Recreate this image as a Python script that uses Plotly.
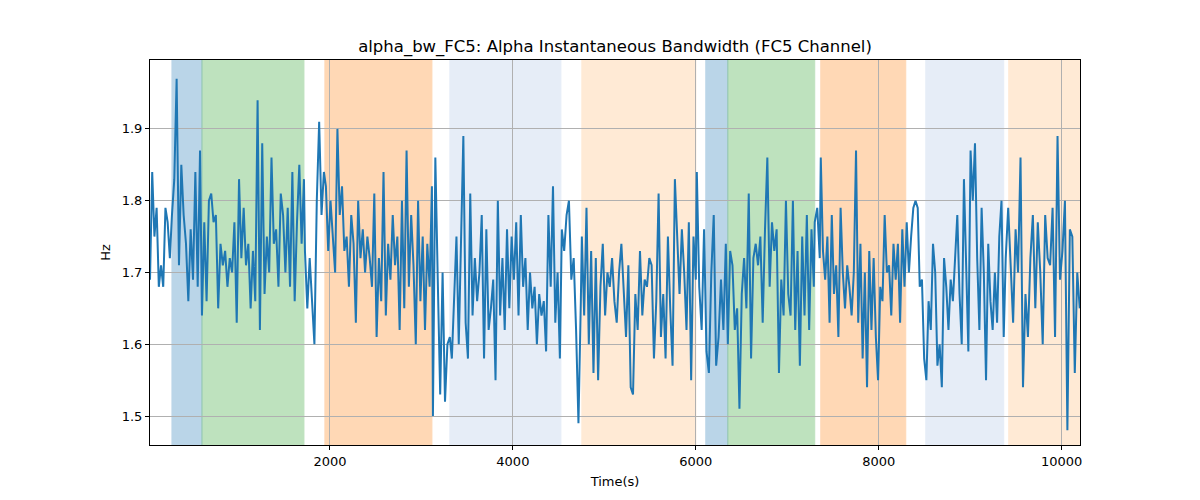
import numpy as np
import plotly.graph_objects as go

# --- data: (segment start time, segment end time, values) ---
seg_times = [
    (33, 250), (273, 580), (601, 1716), (1727, 1934), (1956, 3115),
    (3126, 3311), (3333, 4514), (4535, 4743), (4754, 6000), (6011, 6328),
    (6350, 7290), (7300, 7355), (7366, 8426), (8448, 9366), (9388, 10197),
]
seg_values = [
    [1.69, 1.84, 1.75, 1.79, 1.68, 1.71, 1.68, 1.79, 1.77, 1.72],
    [1.78, 1.83, 1.97, 1.71, 1.85, 1.78, 1.74, 1.66, 1.76, 1.69, 1.84, 1.68, 1.87],
    [1.64, 1.77, 1.66, 1.80, 1.81, 1.77, 1.78, 1.65, 1.74, 1.71, 1.73, 1.68, 1.72, 1.70,
     1.77, 1.63, 1.83, 1.72, 1.79, 1.71, 1.74, 1.65, 1.73, 1.66, 1.94, 1.62, 1.88, 1.67,
     1.75, 1.70, 1.86, 1.74, 1.76, 1.68, 1.81, 1.78, 1.70, 1.79, 1.68, 1.84, 1.66, 1.77,
     1.85, 1.74, 1.83],
    [1.73, 1.65, 1.72, 1.66, 1.60, 1.80, 1.91, 1.78, 1.84],
    [1.82, 1.73, 1.80, 1.75, 1.70, 1.90, 1.78, 1.82, 1.73, 1.75, 1.68, 1.78, 1.74, 1.63,
     1.80, 1.72, 1.76, 1.70, 1.75, 1.72, 1.68, 1.81, 1.61, 1.72, 1.66, 1.84, 1.64, 1.74,
     1.69, 1.78, 1.71, 1.75, 1.62, 1.80, 1.65, 1.87, 1.68, 1.78, 1.71, 1.60, 1.80, 1.66,
     1.75, 1.62, 1.74, 1.68, 1.82],
    [1.50, 1.86, 1.69, 1.53, 1.70, 1.52, 1.60, 1.61],
    [1.58, 1.67, 1.75, 1.60, 1.75, 1.89, 1.63, 1.58, 1.81, 1.64, 1.72, 1.66, 1.70, 1.78,
     1.58, 1.76, 1.62, 1.65, 1.69, 1.55, 1.80, 1.64, 1.72, 1.62, 1.76, 1.65, 1.75, 1.69,
     1.77, 1.64, 1.78, 1.68, 1.72, 1.62, 1.70, 1.65, 1.68, 1.60, 1.67, 1.64, 1.66, 1.59,
     1.78, 1.68, 1.82, 1.63, 1.70, 1.58],
    [1.76, 1.73, 1.78, 1.80, 1.69, 1.72, 1.62, 1.49, 1.66],
    [1.75, 1.64, 1.79, 1.60, 1.73, 1.56, 1.72, 1.55, 1.68, 1.74, 1.64, 1.70, 1.68, 1.72,
     1.66, 1.63, 1.70, 1.74, 1.68, 1.61, 1.71, 1.54, 1.53, 1.67, 1.62, 1.73, 1.64, 1.69,
     1.68, 1.72, 1.71, 1.58, 1.66, 1.81, 1.61, 1.67, 1.58, 1.75, 1.65, 1.57, 1.83, 1.74,
     1.67, 1.76, 1.70, 1.62, 1.77, 1.55, 1.75, 1.69],
    [1.84, 1.68, 1.62, 1.76, 1.59, 1.56, 1.70, 1.78, 1.57, 1.61, 1.69, 1.62, 1.74],
    [1.60, 1.73, 1.71, 1.62, 1.65, 1.51, 1.67, 1.72, 1.65, 1.81, 1.58, 1.72, 1.74, 1.71,
     1.75, 1.63, 1.76, 1.86, 1.68, 1.77, 1.73, 1.76, 1.56, 1.69, 1.64, 1.80, 1.67, 1.64,
     1.80, 1.62, 1.73, 1.57, 1.75, 1.64, 1.78, 1.62, 1.76, 1.68],
    [1.77, 1.79, 1.72],
    [1.86, 1.73, 1.69, 1.75, 1.63, 1.78, 1.67, 1.71, 1.61, 1.79, 1.70, 1.65, 1.71, 1.68,
     1.64, 1.70, 1.87, 1.63, 1.74, 1.58, 1.70, 1.54, 1.73, 1.62, 1.72, 1.61, 1.55, 1.68,
     1.66, 1.78, 1.70, 1.71, 1.64, 1.74, 1.69, 1.74, 1.63, 1.76, 1.68, 1.77, 1.70, 1.75,
     1.79, 1.80, 1.79],
    [1.68, 1.69, 1.58, 1.55, 1.66, 1.62, 1.74, 1.70, 1.57, 1.60, 1.54, 1.72, 1.68, 1.62,
     1.69, 1.66, 1.72, 1.78, 1.67, 1.60, 1.83, 1.69, 1.59, 1.87, 1.80, 1.88, 1.72, 1.62,
     1.79, 1.70, 1.55, 1.74, 1.66, 1.62, 1.70, 1.63, 1.75, 1.80, 1.61],
    [1.72, 1.79, 1.71, 1.63, 1.76, 1.70, 1.86, 1.54, 1.67, 1.61, 1.72, 1.78, 1.65, 1.77,
     1.70, 1.60, 1.78, 1.72, 1.71, 1.79, 1.61, 1.89, 1.69, 1.73, 1.80, 1.48, 1.76, 1.75,
     1.56, 1.70, 1.65],
]

# shaded bands: start, end, colour
band_starts = [273, 601, 1945, 3311, 4754, 6109, 6350, 7366, 8514, 9421]
band_ends = [601, 1716, 3115, 4525, 6000, 6350, 7300, 8295, 9366, 10200]
band_colors = ["#1f77b4", "#2ca02c", "#ff7f0e", "#aec7e8", "#ffbb78",
               "#1f77b4", "#2ca02c", "#ff7f0e", "#aec7e8", "#ffbb78"]

x_ticks = [2000, 4000, 6000, 8000, 10000]
y_ticks = [1.5, 1.6, 1.7, 1.8, 1.9]

times = []
values = []
for (t0, t1), vals in zip(seg_times, seg_values):
    times.extend(np.linspace(t0, t1, len(vals)).tolist())
    values.extend(vals)

fig = go.Figure()
for s, e, c in zip(band_starts, band_ends, band_colors):
    fig.add_vrect(x0=s, x1=e, fillcolor=c, opacity=0.3, line=dict(color=c, width=1),
                  layer="below")

fig.add_trace(go.Scatter(x=times, y=values, mode="lines",
                         line=dict(color="#1f77b4", width=2), showlegend=False))

font = "DejaVu Sans"
fig.update_layout(
    width=1200, height=500,
    margin=dict(l=150, r=120, t=60, b=55),
    paper_bgcolor="white", plot_bgcolor="rgba(0,0,0,0)",
    font=dict(family=font, size=13, color="black"),
    title=dict(text="alpha_bw_FC5: Alpha Instantaneous Bandwidth (FC5 Channel)",
               x=0.5125, xanchor="center", y=0.908, yanchor="middle",
               font=dict(size=16.5, family=font)),
)
fig.update_xaxes(range=[33, 10200], tickvals=x_ticks, ticktext=[str(v) for v in x_ticks],
                 showgrid=True, gridcolor="#b0b0b0", gridwidth=1,
                 showline=True, linecolor="black", linewidth=1, mirror=True,
                 ticks="outside", ticklen=4, tickcolor="black", zeroline=False,
                 title=dict(text="Time(s)", font=dict(size=13), standoff=9))
fig.update_yaxes(range=[1.4596, 1.996], tickvals=y_ticks, ticktext=[f"{v:.1f}" for v in y_ticks],
                 showgrid=True, gridcolor="#b0b0b0", gridwidth=1,
                 showline=True, linecolor="black", linewidth=1, mirror=True,
                 ticks="outside", ticklen=4, tickcolor="black", zeroline=False,
                 title=dict(text="Hz", font=dict(size=13), standoff=8))

fig.write_html("out.html")
